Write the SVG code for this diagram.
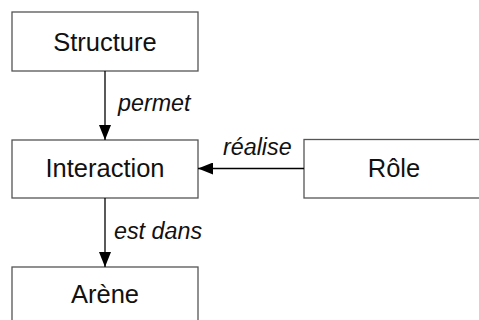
<svg xmlns="http://www.w3.org/2000/svg" width="479" height="320" viewBox="0 0 479 320">
<style>
.box{fill:#fff;stroke:#555;stroke-width:1.3}
.t{font-family:"Liberation Sans",Arial,sans-serif;font-size:25.5px;text-anchor:middle;fill:#111}
.l{font-family:"Liberation Sans",Arial,sans-serif;font-size:23.3px;font-style:italic;fill:#111}
.c{stroke:#000;stroke-width:1.3;fill:none}
</style>
<defs>
<marker id="ah" markerUnits="userSpaceOnUse" markerWidth="15" markerHeight="12" refX="15" refY="6" orient="auto">
<path d="M0,0 L15,6 L0,12 Z" fill="#000"/>
</marker>
</defs>
<rect width="479" height="320" fill="#fff"/>
<g id="structure"><rect class="box" x="12" y="12" width="186" height="59"/><text class="t" x="105" y="51">Structure</text></g>
<g id="interaction"><rect class="box" x="12" y="140" width="186" height="58"/><text class="t" x="105" y="177">Interaction</text></g>
<g id="arene"><rect class="box" x="12" y="267" width="186" height="60"/><text class="t" x="105" y="303">Arène</text></g>
<g id="role"><rect class="box" x="304" y="139.5" width="190" height="58.5"/><text class="t" x="394" y="177">Rôle</text></g>
<g id="connectors">
<line class="c" x1="105" y1="71" x2="105" y2="140" marker-end="url(#ah)"/>
<line class="c" x1="105" y1="198" x2="105" y2="267" marker-end="url(#ah)"/>
<line class="c" x1="304" y1="168.5" x2="198" y2="168.5" marker-end="url(#ah)"/>
<text class="l" x="118" y="111">permet</text>
<text class="l" x="114" y="239">est dans</text>
<text class="l" x="223" y="155">réalise</text>
</g>
</svg>
